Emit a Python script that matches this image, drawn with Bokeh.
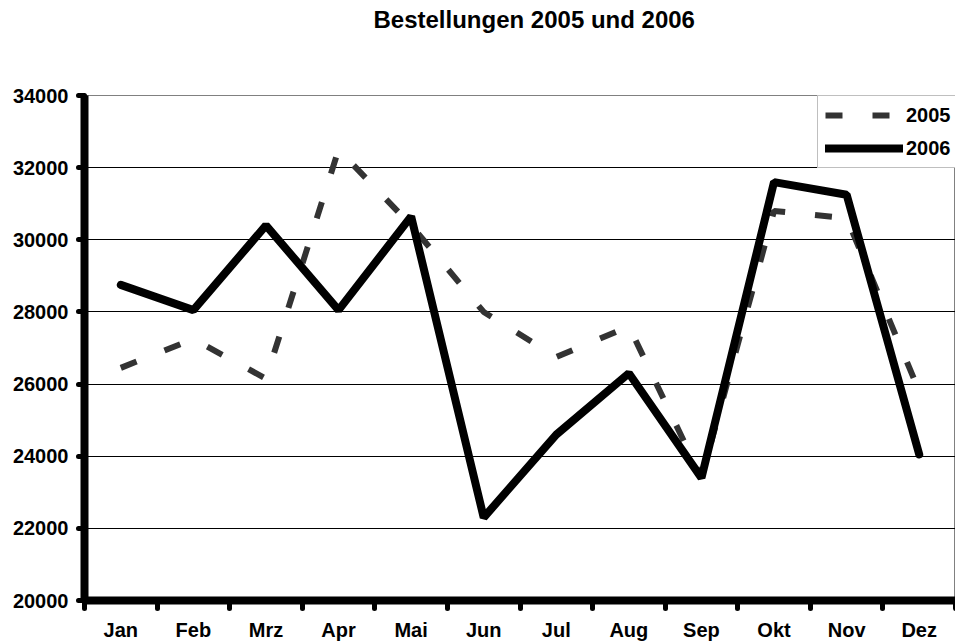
from bokeh.plotting import figure
from bokeh.models import FixedTicker, Range1d, Legend, LegendItem, Title
from bokeh.embed import file_html
from bokeh.resources import INLINE

months = ["Jan", "Feb", "Mrz", "Apr", "Mai", "Jun", "Jul", "Aug", "Sep", "Okt", "Nov", "Dez"]
orders_2005 = [26450, 27250, 26150, 32500, 30400, 28000, 26750, 27600, 23400, 30800, 30600, 25800]
orders_2006 = [28750, 28050, 30400, 28050, 30650, 22300, 24600, 26300, 23400, 31600, 31250, 24050]
y_ticks = [20000, 22000, 24000, 26000, 28000, 30000, 32000, 34000]
title_text = "Bestellungen 2005 und 2006"

xs = [i + 0.5 for i in range(len(months))]
FONT = "Liberation Sans"

p = figure(width=955, height=643, output_backend="svg", toolbar_location=None,
           x_range=Range1d(0, len(months)), y_range=Range1d(y_ticks[0], y_ticks[-1]),
           min_border_left=84, min_border_right=0, min_border_top=95, min_border_bottom=43)

p.title.text = title_text
p.title.text_font = FONT
p.title.text_font_size = "24px"
p.title.text_font_style = "bold"
p.title.text_color = "black"
p.title.align = "left"
p.title.offset = 289
p.title.standoff = 0

# empty spacer between the title and the plot area
p.add_layout(Title(text=" ", text_font_size="10px", standoff=50), "above")

p.outline_line_color = "#808080"
p.outline_line_width = 1
p.background_fill_color = "white"
p.border_fill_color = "white"

r05 = p.line(xs, orders_2005, line_color="#333333", line_width=6, line_dash="17 30")
r06 = p.line(xs, orders_2006, line_color="black", line_width=8, line_cap="round")

# x axis
xa = p.xaxis[0]
xa.ticker = FixedTicker(ticks=xs, minor_ticks=list(range(len(months) + 1)))
xa.major_label_overrides = {x: m for x, m in zip(xs, months)}
xa.major_tick_out = 0
xa.major_tick_in = 0
xa.minor_tick_out = 8
xa.minor_tick_in = 0
xa.minor_tick_line_width = 5
xa.minor_tick_line_color = "black"
xa.minor_tick_line_cap = "round"
xa.major_label_standoff = 10
xa.axis_line_width = 8
xa.axis_line_color = "black"

# y axis
ya = p.yaxis[0]
ya.ticker = FixedTicker(ticks=y_ticks)
ya.major_tick_out = 6
ya.major_tick_in = 0
ya.major_tick_line_width = 5
ya.major_tick_line_cap = "round"
ya.minor_tick_out = 0
ya.minor_tick_in = 0
ya.major_label_standoff = 10
ya.axis_line_width = 8
ya.axis_line_color = "black"

for ax in (xa, ya):
    ax.major_label_text_font = FONT
    ax.major_label_text_font_size = "20px"
    ax.major_label_text_font_style = "bold"
    ax.major_label_text_color = "black"

p.xgrid.visible = False
p.ygrid.ticker = FixedTicker(ticks=y_ticks[1:-1])
p.ygrid.grid_line_color = "black"
p.ygrid.grid_line_width = 1

legend = Legend(items=[LegendItem(label="2005", renderers=[r05]),
                       LegendItem(label="2006", renderers=[r06])],
                location=(733, 432), margin=0, padding=7, spacing=9,
                glyph_width=78, glyph_height=24, label_height=24, label_standoff=3,
                border_line_color="#808080", border_line_width=1,
                background_fill_color="white", background_fill_alpha=1,
                label_text_font=FONT, label_text_font_size="20px",
                label_text_font_style="bold", label_text_color="black")
p.add_layout(legend)

open("out.html", "w").write(file_html(p, INLINE))
